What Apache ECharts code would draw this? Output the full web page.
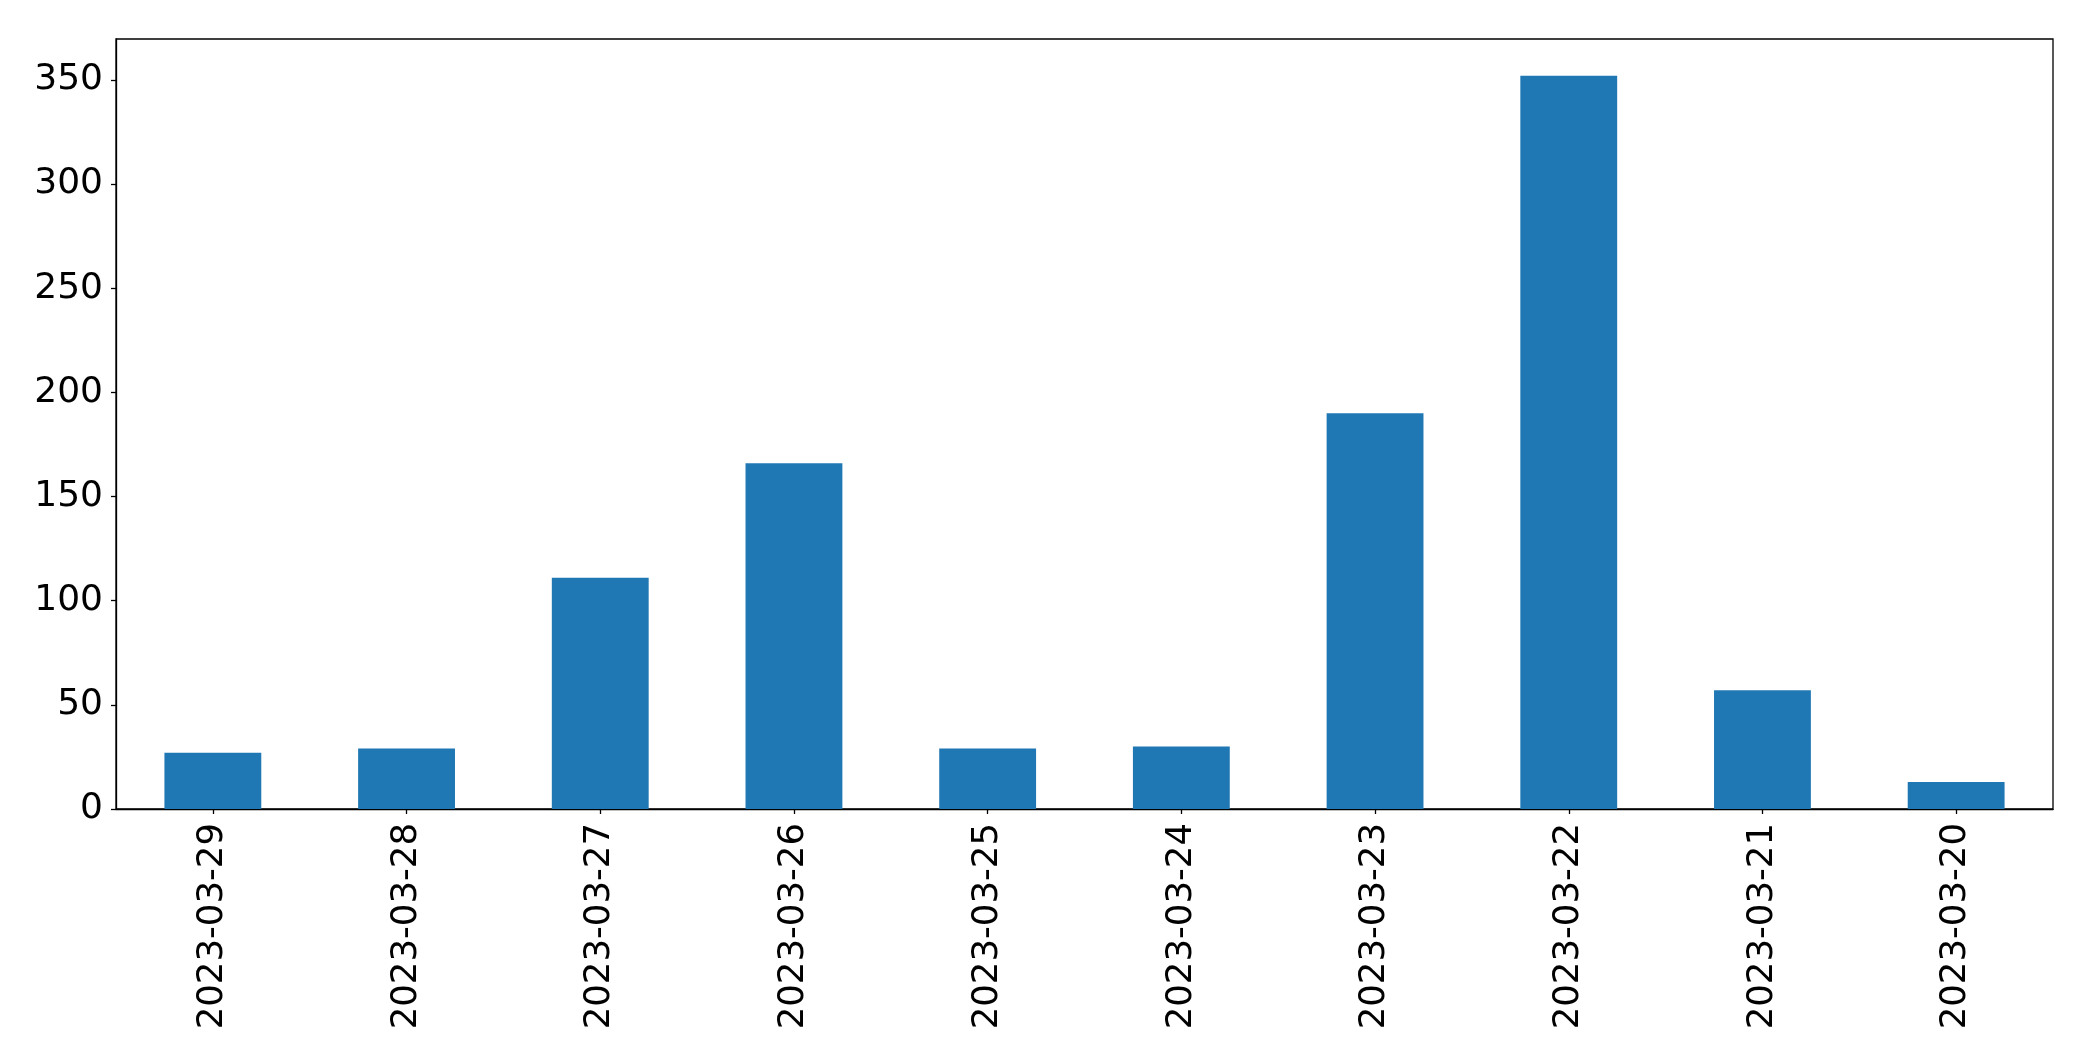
<!DOCTYPE html>
<html>
<head>
<meta charset="utf-8">
<script src="https://cdn.jsdelivr.net/npm/echarts@6/dist/echarts.min.js"></script>
<style>
html,body{margin:0;padding:0;background:#fff;}
#chart{width:2093px;height:1061px;}
</style>
</head>
<body>
<div id="chart"></div>
<script>
var categories = ["2023-03-29","2023-03-28","2023-03-27","2023-03-26","2023-03-25","2023-03-24","2023-03-23","2023-03-22","2023-03-21","2023-03-20"];
var values = [27, 29, 111, 166, 29, 30, 190, 352, 57, 13];
var yTicks = [0, 50, 100, 150, 200, 250, 300, 350];

var chart = echarts.init(document.getElementById('chart'), null, {renderer: 'canvas'});
var fontFamily = 'DejaVu Sans';
chart.setOption({
  animation: false,
  backgroundColor: '#ffffff',
  grid: {
    left: 116, right: 40, top: 39, bottom: 252,
    show: true, borderColor: '#000', borderWidth: 1.3, backgroundColor: 'transparent',
    containLabel: false
  },
  xAxis: {
    type: 'category',
    data: categories,
    boundaryGap: true,
    axisLine: {show: true, lineStyle: {color: '#000', width: 1.3}},
    axisTick: {show: true, alignWithLabel: true, length: 5, lineStyle: {color: '#000', width: 1.3}},
    axisLabel: {rotate: 90, margin: 14, color: '#000', fontSize: 35.5, fontFamily: fontFamily, interval: 0},
    splitLine: {show: false}
  },
  yAxis: {
    type: 'value',
    min: 0,
    max: 369.6,
    interval: 50,
    axisLine: {show: true, lineStyle: {color: '#000', width: 1.3}},
    axisTick: {show: true, length: 5, lineStyle: {color: '#000', width: 1.3}},
    axisLabel: {
      margin: 13, color: '#000', fontSize: 36, fontFamily: fontFamily,
      showMaxLabel: false,
      formatter: function (v) { return yTicks.indexOf(v) >= 0 ? String(v) : ''; }
    },
    splitLine: {show: false}
  },
  series: [{
    type: 'bar',
    data: values,
    barWidth: '50%',
    itemStyle: {color: '#1f77b4'}
  }]
});
</script>
</body>
</html>
